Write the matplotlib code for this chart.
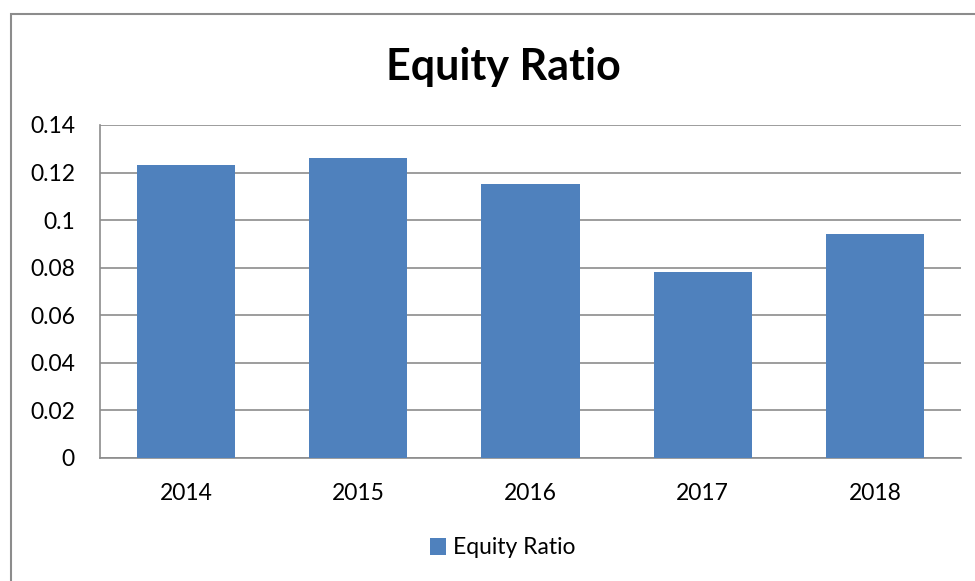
import matplotlib.pyplot as plt
from matplotlib.patches import Rectangle

# chart data
years = ['2014', '2015', '2016', '2017', '2018']
equity_ratio = [0.123, 0.126, 0.115, 0.078, 0.094]
y_ticks = [0, 0.02, 0.04, 0.06, 0.08, 0.1, 0.12, 0.14]
y_tick_labels = ['0', '0.02', '0.04', '0.06', '0.08', '0.1', '0.12', '0.14']

plt.rcParams['font.family'] = ['Lato', 'DejaVu Sans']

W, H = 975, 581
fig = plt.figure(figsize=(W / 100, H / 100), dpi=100)

# outer chart border (cut off at right and bottom like the screenshot)
fig.patches.append(Rectangle((11 / W, -0.1), 1.2, 1 - 14 / H + 0.1,
                             transform=fig.transFigure, fill=False,
                             edgecolor='#8c8c8c', linewidth=1.5))

left, right, top, bottom = 100, 961, 125, 458
ax = fig.add_axes([left / W, 1 - bottom / H, (right - left) / W, (bottom - top) / H])

x = list(range(len(years)))
ax.bar(x, equity_ratio, width=0.57, color='#4F81BD', zorder=3, label='Equity Ratio')

ax.set_xlim(-0.5, len(years) - 0.5)
ax.set_ylim(0, 0.14)
ax.set_xticks(x)
ax.set_xticklabels(years)
ax.set_yticks(y_ticks)
ax.set_yticklabels(y_tick_labels)
ax.yaxis.grid(True, color='#8c8c8c', linewidth=1.2, zorder=0)
ax.tick_params(axis='both', length=0, labelsize=16.5, colors='black')
ax.tick_params(axis='x', pad=18)
ax.tick_params(axis='y', pad=18)

for side in ['top', 'right']:
    ax.spines[side].set_visible(False)
for side in ['left', 'bottom']:
    ax.spines[side].set_color('#8c8c8c')
    ax.spines[side].set_linewidth(1.2)

fig.text(503 / W, 1 - 67 / H, 'Equity Ratio', ha='center', va='center',
         fontsize=31, fontweight='bold')

fig.legend(loc='center', bbox_to_anchor=(503 / W, 1 - 548 / H), frameon=False,
           fontsize=16.5, handlelength=0.7, handleheight=0.7, handletextpad=0.3)

fig.savefig('out.png', dpi=100)
